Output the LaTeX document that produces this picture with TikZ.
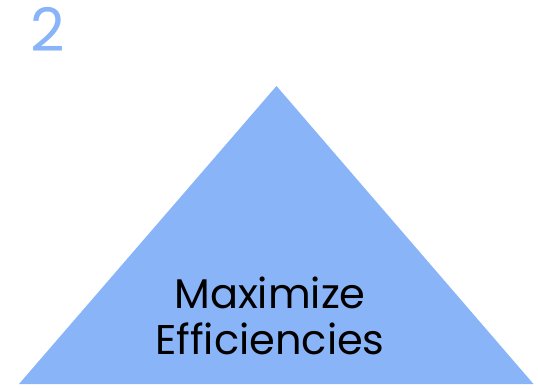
\documentclass[tikz,border=0pt]{standalone}
\usepackage{fontspec}
\setmainfont{Poppins}
\usetikzlibrary{positioning}
\definecolor{pyrblue}{HTML}{8AB4F8}
\tikzset{>=latex}

\begin{document}
\begin{tikzpicture}[x=1pt,y=-1pt]
\useasboundingbox (0,0) rectangle (538,390);
\coordinate (apex) at (276.5,86);
\coordinate (bl) at (19,384);
\coordinate (br) at (533.5,384);
\fill[pyrblue] (apex) -- (bl) -- (br) -- cycle;
\node[anchor=base west,text=pyrblue,font=\fontsize{60}{60}\selectfont,inner sep=0pt] (num) at (30,52) {2};
\node[anchor=base,align=center,font=\fontsize{41.5}{46}\selectfont,inner sep=0pt] (goal) at (270,354) {Maximize\\Efficiencies};
\end{tikzpicture}
\end{document}
